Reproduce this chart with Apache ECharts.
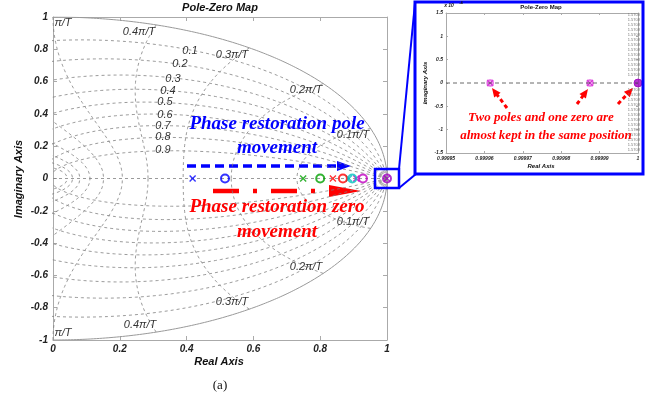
<!DOCTYPE html>
<html><head><meta charset="utf-8">
<script src="https://cdn.jsdelivr.net/npm/echarts@6/dist/echarts.min.js"></script>
<style>html,body{margin:0;padding:0;background:#fff}#c{width:662px;height:401px}</style>
</head><body><div id="c"></div>
<script>
// ---- data ----
const markerColors = ['#0000ff', '#00a000', '#ff0000', '#00c0c0', '#c000c0', '#a000c0'];
const poleRe = [0.418, 0.749, 0.838, 0.886, 0.908, 1.0];
const zeroRe = [0.515, 0.800, 0.868, 0.896, 0.928, 1.0];
const insetPoleRe = [0.9999615, 0.9999875];
const insetZeroRe = [1.0];
const zetaValues = [0.1, 0.2, 0.3, 0.4, 0.5, 0.6, 0.7, 0.8, 0.9];
const wnValues = [0.1, 0.2, 0.3, 0.4, 0.5, 0.6, 0.7, 0.8, 0.9, 1.0]; // x pi/T
const zetaLabels = ['0.1','0.2','0.3','0.4','0.5','0.6','0.7','0.8','0.9'];
const wnLabels = ['0.1\u03C0/T','0.2\u03C0/T','0.3\u03C0/T','0.4\u03C0/T','\u03C0/T'];

// ---- z-plane grid (zgrid) ----
function zetaCurves() {
  const out = [];
  zetaValues.forEach(z => {
    const k = z / Math.sqrt(1 - z * z);
    [1, -1].forEach(s => {
      for (let i = 0; i <= 300; i++) {
        const th = Math.PI * i / 300, r = Math.exp(-k * th);
        out.push([r * Math.cos(th), s * r * Math.sin(th)]);
      }
      out.push([null, null]);
    });
  });
  return out;
}
function wnCurves() {
  const out = [];
  wnValues.forEach(w => {
    const W = w * Math.PI;
    [1, -1].forEach(s => {
      for (let i = 0; i <= 200; i++) {
        const z = i / 200, r = Math.exp(-W * z), th = W * Math.sqrt(1 - z * z);
        out.push([r * Math.cos(th), s * r * Math.sin(th)]);
      }
      out.push([null, null]);
    });
  });
  return out;
}
function unitCircle() {
  const out = [];
  for (let i = 0; i <= 360; i++) { const t = -Math.PI / 2 + Math.PI * i / 360; out.push([Math.cos(t), Math.sin(t)]); }
  return out;
}

const xMark = 'path://M0,1.4L1.4,0L5,3.6L8.6,0L10,1.4L6.4,5L10,8.6L8.6,10L5,6.4L1.4,10L0,8.6L3.6,5Z';
const tickFont = {fontFamily: 'Liberation Sans, Arial', fontWeight: 'bold', fontStyle: 'italic', fontSize: 10, color: '#222'};
const fmt = v => String(Math.round(v * 10) / 10);

function axisCommon(extra) {
  return Object.assign({
    type: 'value', splitLine: {show: false},
    axisLine: {show: true, onZero: false, lineStyle: {color: '#aaa', width: 1}},
    axisTick: {show: true, inside: true, length: 4, lineStyle: {color: '#aaa'}},
  }, extra);
}

function arrow(x1, y1, x2, y2, color, lw, dash, hl, hw) {
  const dx = x2 - x1, dy = y2 - y1, L = Math.hypot(dx, dy), ux = dx / L, uy = dy / L;
  const bx = x2 - ux * hl, by = y2 - uy * hl;
  return [
    {type: 'polyline', shape: {points: [[x1, y1], [bx + ux * 2, by + uy * 2]]}, style: {stroke: color, lineWidth: lw, lineDash: dash, fill: null}},
    {type: 'polygon', shape: {points: [[x2, y2], [bx - uy * hw, by + ux * hw], [bx + uy * hw, by - ux * hw]]}, style: {fill: color}}
  ];
}
function txt(text, x, y, font, fill, align, rot) {
  return {type: 'text', x: x, y: y, rotation: rot || 0, z: 100,
    style: {text: text, font: font, fill: fill, align: align || 'center', verticalAlign: 'middle'}};
}

const gridFont = 'italic 11px "Liberation Sans", Arial';
const zetaPos = [[190,51],[180,64],[173,79],[168,91],[165,102],[165,115],[163,126],[163,137],[163,150]];
const wnPosUp = [[353,135],[306,90],[232,55],[139,32],[63,23]];
const wnPosDn = [[353,222],[306,267],[232,302],[140,325],[63,333]];

const graphics = [];
// titles/axis names main
graphics.push(txt('Pole-Zero Map', 220, 8, 'bold italic 11px "Liberation Sans", Arial', '#111'));
graphics.push(txt('Real Axis', 219, 362, 'bold italic 11px "Liberation Sans", Arial', '#111'));
graphics.push(txt('Imaginary Axis', 19, 179, 'bold italic 11px "Liberation Sans", Arial', '#111', 'center', Math.PI / 2));
graphics.push(txt('(a)', 220, 386, '13px "Liberation Serif", "Times New Roman"', '#111'));
zetaLabels.forEach((t, i) => graphics.push(txt(t, zetaPos[i][0], zetaPos[i][1], gridFont, '#333')));
wnLabels.forEach((t, i) => {
  graphics.push(txt(t, wnPosUp[i][0], wnPosUp[i][1], gridFont, '#333'));
  graphics.push(txt(t, wnPosDn[i][0], wnPosDn[i][1], gridFont, '#333'));
});
// annotations main
const annFont = 'bold italic 19px "Liberation Serif", "Times New Roman"';
graphics.push(txt('Phase restoration pole', 277, 124, annFont, '#0000ff'));
graphics.push(txt('movement', 277, 148, annFont, '#0000ff'));
graphics.push(txt('Phase restoration zero', 277, 207, annFont, '#ff0000'));
graphics.push(txt('movement', 277, 232, annFont, '#ff0000'));
graphics.push(...arrow(187, 166, 351, 166, '#0000ff', 3.5, [9, 5], 14, 5));
graphics.push(...arrow(213, 191, 361, 191, '#ff0000', 4.5, [26, 14, 4, 14], 32, 6));
// zoom box + connectors
graphics.push({type: 'rect', shape: {x: 375, y: 169, width: 24, height: 19}, style: {fill: null, stroke: '#0000ff', lineWidth: 2.5}, z: 100});
graphics.push({type: 'polyline', shape: {points: [[399, 169], [415, 3]]}, style: {stroke: '#0000ff', lineWidth: 2, fill: null}, z: 100});
graphics.push({type: 'polyline', shape: {points: [[399, 188], [416, 174]]}, style: {stroke: '#0000ff', lineWidth: 2, fill: null}, z: 100});
// inset frame
graphics.push({type: 'rect', shape: {x: 415, y: 2, width: 228, height: 172}, style: {fill: null, stroke: '#0000ff', lineWidth: 3}, z: 100});
graphics.push(txt('Pole-Zero Map', 541, 7, 'bold 6px "Liberation Sans", Arial', '#111'));
graphics.push(txt('Real Axis', 541, 166, 'bold italic 6px "Liberation Sans", Arial', '#111'));
graphics.push(txt('Imaginary Axis', 425, 83, 'bold italic 6px "Liberation Sans", Arial', '#111', 'center', Math.PI / 2));
graphics.push(txt('x 10', 449, 6, 'bold italic 5px "Liberation Sans", Arial', '#111'));
graphics.push(txt('-4', 461, 3, 'bold 4px "Liberation Sans", Arial', '#111'));
const insFont = 'bold italic 13px "Liberation Serif", "Times New Roman"';
graphics.push(txt('Two poles and one zero are', 541, 118, insFont, '#ff0000'));
graphics.push(txt('almost kept in the same position', 546, 136, insFont, '#ff0000'));
graphics.push(...arrow(507, 108, 492, 88, '#ff0000', 3, [4, 3], 9, 4));
graphics.push(...arrow(577, 104, 588, 89, '#ff0000', 3, [4, 3], 9, 4));
graphics.push(...arrow(618, 104, 633, 88, '#ff0000', 3, [4, 3], 9, 4));
for (let yy = 15; yy <= 150; yy += 5) {
  if (Math.abs(yy - 83) < 4) continue;
  graphics.push({type: 'text', x: 640, y: yy, z: 100, style: {text: '1.5708', font: '4px "Liberation Sans", Arial', fill: '#777', align: 'right', verticalAlign: 'middle'}});
}

const poleData = poleRe.map((x, i) => ({value: [x, 0], itemStyle: {color: markerColors[i]}}));
const zeroData = zeroRe.map((x, i) => ({value: [x, 0], itemStyle: {color: 'rgba(0,0,0,0)', borderColor: markerColors[i], borderWidth: 2}}));

const option = {
  animation: false,
  grid: [
    {left: 53, top: 17, width: 334, height: 323},
    {left: 446, top: 13, width: 192, height: 140}
  ],
  xAxis: [
    axisCommon({gridIndex: 0, min: 0, max: 1, interval: 0.2, position: 'bottom', axisLabel: Object.assign({margin: 4, formatter: fmt}, tickFont)}),
    axisCommon({gridIndex: 0, min: 0, max: 1, interval: 0.2, position: 'top', axisLabel: {show: false}}),
    axisCommon({gridIndex: 1, min: 0.99995, max: 1, interval: 0.00001, position: 'bottom',
      axisTick: {show: true, inside: true, length: 2, lineStyle: {color: '#aaa'}},
      axisLabel: {margin: 3, fontSize: 5, fontWeight: 'bold', fontStyle: 'italic', color: '#222', formatter: v => v >= 0.999999 ? '1' : v.toFixed(5)}}),
    axisCommon({gridIndex: 1, min: 0.99995, max: 1, interval: 0.00001, position: 'top', axisTick: {show: true, inside: true, length: 2, lineStyle: {color: '#aaa'}}, axisLabel: {show: false}})
  ],
  yAxis: [
    axisCommon({gridIndex: 0, min: -1, max: 1, interval: 0.2, position: 'left', axisLabel: Object.assign({margin: 5, formatter: fmt}, tickFont)}),
    axisCommon({gridIndex: 0, min: -1, max: 1, interval: 0.2, position: 'right', axisLabel: {show: false}}),
    axisCommon({gridIndex: 1, min: -1.5, max: 1.5, interval: 0.5, position: 'left',
      axisTick: {show: true, inside: true, length: 2, lineStyle: {color: '#aaa'}},
      axisLabel: {margin: 3, fontSize: 5, fontWeight: 'bold', fontStyle: 'italic', color: '#222', formatter: v => String(Math.round(v * 10) / 10)}}),
    axisCommon({gridIndex: 1, min: -1.5, max: 1.5, interval: 0.5, position: 'right', axisTick: {show: true, inside: true, length: 2, lineStyle: {color: '#aaa'}}, axisLabel: {show: false}})
  ],
  series: [
    {type: 'line', xAxisIndex: 0, yAxisIndex: 0, data: zetaCurves(), showSymbol: false, connectNulls: false, silent: true,
      lineStyle: {color: '#808080', width: 0.8, type: [3, 3]}},
    {type: 'line', xAxisIndex: 0, yAxisIndex: 0, data: wnCurves(), showSymbol: false, connectNulls: false, silent: true,
      lineStyle: {color: '#808080', width: 0.8, type: [3, 3]}},
    {type: 'line', xAxisIndex: 0, yAxisIndex: 0, data: [[0, 0], [1, 0]], showSymbol: false, silent: true,
      lineStyle: {color: '#808080', width: 0.8, type: [3, 3]}},
    {type: 'line', xAxisIndex: 0, yAxisIndex: 0, data: unitCircle(), showSymbol: false, silent: true,
      lineStyle: {color: '#999', width: 1}},
    {type: 'scatter', xAxisIndex: 0, yAxisIndex: 0, data: poleData, symbol: xMark, symbolSize: 7, clip: false, z: 5},
    {type: 'scatter', xAxisIndex: 0, yAxisIndex: 0, data: zeroData, symbol: 'circle', symbolSize: 8, clip: false, z: 6},
    {type: 'line', xAxisIndex: 2, yAxisIndex: 2, data: [[0.99995, 0], [1, 0]], showSymbol: false, silent: true,
      lineStyle: {color: '#444', width: 0.8, type: [4, 3]}},
    {type: 'scatter', xAxisIndex: 2, yAxisIndex: 2, data: insetPoleRe.map(x => [x, 0]), symbol: xMark, symbolSize: 7, clip: false,
      itemStyle: {color: '#c000c0'}},
    {type: 'scatter', xAxisIndex: 2, yAxisIndex: 2, data: insetPoleRe.map(x => [x, 0]), symbol: 'circle', symbolSize: 6, clip: false,
      itemStyle: {color: 'rgba(0,0,0,0)', borderColor: '#e040e0', borderWidth: 1.5}},
    {type: 'scatter', xAxisIndex: 2, yAxisIndex: 2, data: insetZeroRe.map(x => [x, 0]), symbol: 'circle', symbolSize: 8, clip: false,
      itemStyle: {color: '#a000c0', borderColor: '#a000c0', borderWidth: 1}}
  ],
  graphic: {elements: graphics}
};
const chart = echarts.init(document.getElementById('c'), null, {renderer: 'canvas'});
chart.setOption(option);
</script>
</body></html>
